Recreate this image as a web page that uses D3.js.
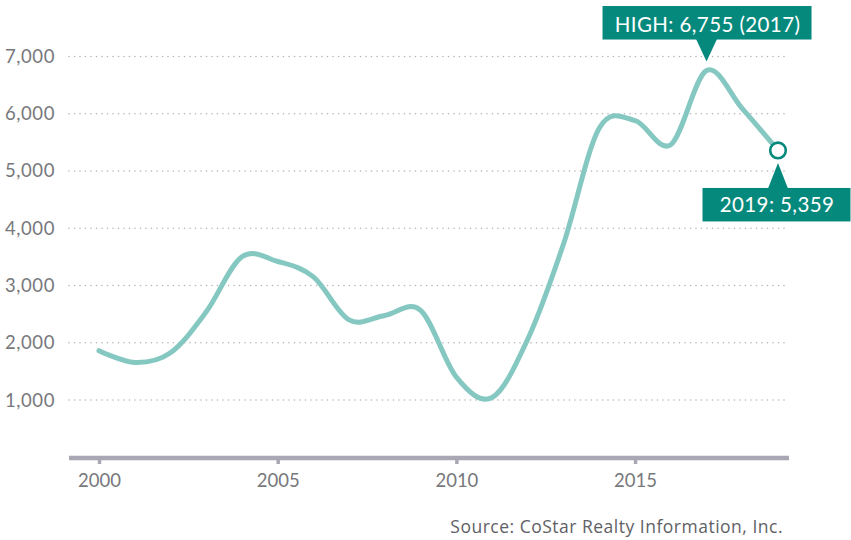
<!DOCTYPE html>
<html>
<head>
<meta charset="utf-8">
<script src="https://cdn.jsdelivr.net/npm/d3@7"></script>
<style>
  body { margin: 0; background: #fff; }
  text { font-family: Lato, "Open Sans", sans-serif; }
</style>
</head>
<body>
<div class="chart"></div>
<script>
// annual values
var years = [2000, 2001, 2002, 2003, 2004, 2005, 2006, 2007, 2008, 2009,
  2010, 2011, 2012, 2013, 2014, 2015, 2016, 2017, 2018, 2019]
var values = [1863, 1656, 1826, 2540, 3502, 3420, 3152, 2400, 2477, 2566,
  1400, 1045, 2067, 3729, 5750, 5880, 5460, 6755, 6091, 5359]
var yTicks = [1000, 2000, 3000, 4000, 5000, 6000, 7000]
var xTicks = [2000, 2005, 2010, 2015]
var source = 'Source: CoStar Realty Information, Inc.'

var width = 851, height = 540
var teal = '#06897d'

var svg = d3.select('.chart').append('svg')
  .attr('width', width)
  .attr('height', height)

var x = d3.scaleLinear().domain([2000, 2019]).range([99, 778])
var y = d3.scaleLinear().domain([0, 7000]).range([457.3, 56.5])

// dotted grid lines
svg.append('g')
  .selectAll('line')
  .data(yTicks)
  .enter().append('line')
  .attr('x1', 69)
  .attr('x2', 785)
  .attr('y1', d => y(d))
  .attr('y2', d => y(d))
  .attr('stroke', '#b4b4b8')
  .attr('stroke-width', 1.6)
  .attr('stroke-linecap', 'round')
  .attr('stroke-dasharray', '0,5.5')

// y labels
svg.append('g')
  .selectAll('text')
  .data(yTicks)
  .enter().append('text')
  .attr('x', 55)
  .attr('y', d => y(d))
  .attr('dy', '0.35em')
  .attr('text-anchor', 'end')
  .attr('font-size', 18.5)
  .attr('letter-spacing', 0.6)
  .attr('fill', '#77787c')
  .text(d => d3.format(',')(d))

// x axis
var xAxis = d3.axisBottom(x)
  .tickValues(xTicks)
  .tickFormat(d3.format('d'))
  .tickSize(6)
  .tickSizeOuter(0)

var gx = svg.append('g')
  .attr('transform', 'translate(0,' + (y(0) + 0.7) + ')')
  .call(xAxis)
gx.select('.domain')
  .attr('d', 'M69,0H789')
  .attr('stroke', '#a8a7b3')
  .attr('stroke-width', 4.5)
gx.selectAll('.tick line')
  .attr('stroke', '#a8a7b3')
  .attr('stroke-width', 3.5)
gx.selectAll('.tick text')
  .attr('font-size', 18.5)
  .attr('fill', '#77787c')
  .attr('dy', '1.1em')

// the line
var line = d3.line()
  .x((d, i) => x(years[i]))
  .y(d => y(d))
  .curve(d3.curveCardinal.tension(0))

svg.append('path')
  .datum(values)
  .attr('d', line)
  .attr('fill', 'none')
  .attr('stroke', '#85c8c1')
  .attr('stroke-width', 5)
  .attr('stroke-linecap', 'round')

// high annotation
var hiIdx = values.indexOf(d3.max(values))
var hx = x(years[hiIdx]), hy = y(values[hiIdx])
var hi = svg.append('g')
hi.append('rect')
  .attr('x', hx - 104).attr('y', hy - 64.5)
  .attr('width', 209).attr('height', 33.5)
  .attr('fill', teal)
hi.append('path')
  .attr('d', 'M' + (hx - 10.5) + ',' + (hy - 31.5) + 'L' + (hx + 10.5) + ',' + (hy - 31.5) + 'L' + hx + ',' + (hy - 9) + 'Z')
  .attr('fill', teal)
hi.append('text')
  .attr('x', hx + 1).attr('y', hy - 39)
  .attr('text-anchor', 'middle')
  .attr('font-size', 20.5)
  .attr('letter-spacing', 0.4)
  .attr('fill', '#fff')
  .text('HIGH: ' + d3.format(',')(values[hiIdx]) + ' (' + years[hiIdx] + ')')

// last point annotation
var li = values.length - 1
var lx = x(years[li]), ly = y(values[li])
svg.append('circle')
  .attr('cx', lx).attr('cy', ly)
  .attr('r', 7.8)
  .attr('fill', '#fff')
  .attr('stroke', teal)
  .attr('stroke-width', 2.6)
var last = svg.append('g')
last.append('path')
  .attr('d', 'M' + (lx - 10) + ',' + (ly + 38) + 'L' + (lx + 10) + ',' + (ly + 38) + 'L' + lx + ',' + (ly + 12.5) + 'Z')
  .attr('fill', teal)
last.append('rect')
  .attr('x', lx - 75.5).attr('y', ly + 37.5)
  .attr('width', 148).attr('height', 33.5)
  .attr('fill', teal)
last.append('text')
  .attr('x', lx - 1).attr('y', ly + 61.5)
  .attr('text-anchor', 'middle')
  .attr('font-size', 20.5)
  .attr('letter-spacing', 0.4)
  .attr('fill', '#fff')
  .text(years[li] + ': ' + d3.format(',')(values[li]))

// source
svg.append('text')
  .attr('x', 783).attr('y', 532.5)
  .attr('text-anchor', 'end')
  .style('font-family', '"Open Sans", sans-serif')
  .attr('font-size', 17.5)
  .attr('letter-spacing', 0.5)
  .attr('fill', '#606166')
  .text(source)
</script>
</body>
</html>
